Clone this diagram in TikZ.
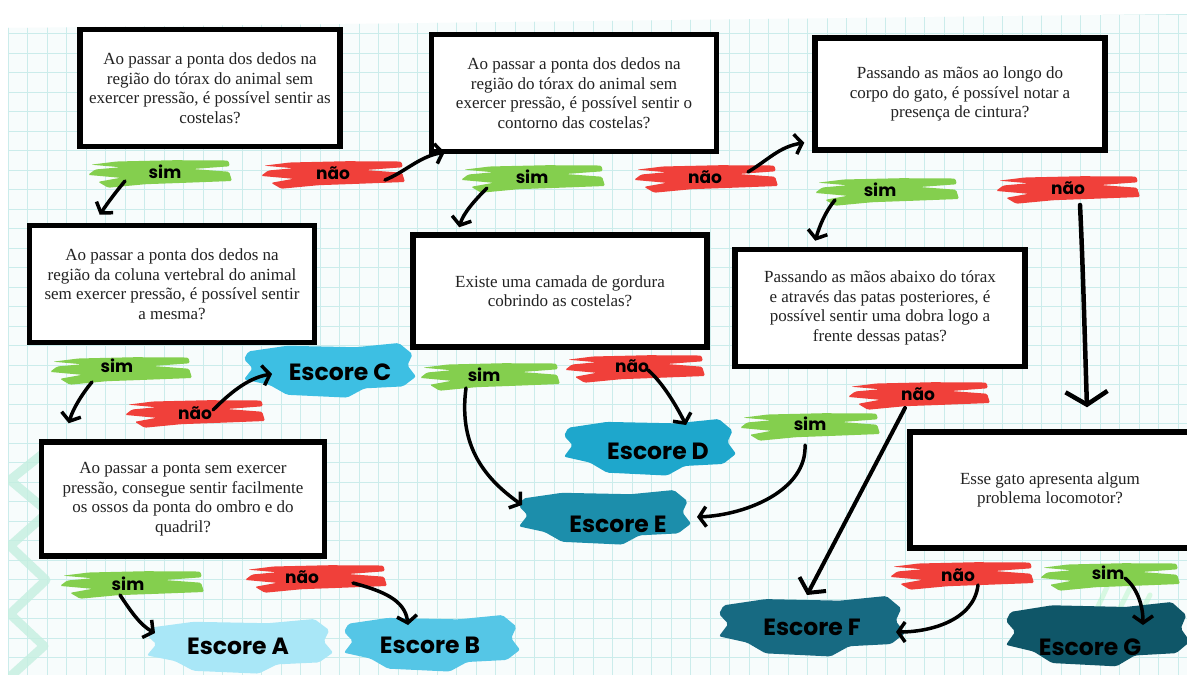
\documentclass[tikz,border=0pt]{standalone}
\usepackage{fontspec}
\setmainfont{Liberation Serif}
\newfontfamily\hand{Poppins}
\usetikzlibrary{arrows.meta,calc}
\definecolor{paper}{HTML}{F7FCFC}
\definecolor{gridc}{HTML}{CBECEB}
\definecolor{mint}{HTML}{C4EFE0}
\definecolor{bgreen}{HTML}{84CF4E}
\definecolor{bred}{HTML}{F0403A}
\definecolor{sA}{HTML}{A9E7F7}
\definecolor{sB}{HTML}{55C6E6}
\definecolor{sC}{HTML}{3DBFE3}
\definecolor{sD}{HTML}{1EA7CC}
\definecolor{sE}{HTML}{1C8EAB}
\definecolor{sF}{HTML}{176A82}
\definecolor{sG}{HTML}{0F5668}
\definecolor{qtxt}{HTML}{222222}
% label brush: x, y, half width, half height, colour
\newcommand{\lbrush}[5]{%
  \begin{scope}[shift={(#1,#2)},xscale=#3,yscale=#4]
    \fill[#5,rounded corners=1.5pt] (-0.6,-0.72) -- (0.2,-0.8) -- (0.95,-0.78) -- (0.97,-0.42)
      -- (0.45,-0.25) -- (0.96,-0.08) -- (1.0,0.5) -- (0.3,0.62) -- (-0.2,0.7) -- (-0.72,0.92)
      -- (-0.86,0.55) -- (-0.55,0.3) -- (-1.0,0.12) -- (-0.9,-0.22) -- (-0.55,-0.36)
      -- (-0.96,-0.52) -- cycle;
  \end{scope}}
% score brush
\newcommand{\sbrush}[5]{%
  \begin{scope}[shift={(#1,#2)},xscale=#3,yscale=#4]
    \fill[#5,rounded corners=2pt] (-0.95,-0.7) -- (-0.5,-0.9) -- (0.3,-0.85) -- (0.8,-1) -- (0.96,-0.6)
      -- (0.9,-0.2) -- (1.0,0.2) -- (0.85,0.55) -- (0.4,0.62) -- (0.2,0.95) -- (-0.5,0.85)
      -- (-0.7,0.5) -- (-1.0,0.3) -- (-0.9,-0.1) -- (-1.0,-0.42) -- cycle;
  \end{scope}}
\tikzset{
  qbox/.style={draw=black, line width=5.5pt, fill=white, align=center, text=qtxt,
    font=\fontsize{17}{19.5}\selectfont, inner sep=0pt},
  lab/.style={font=\hand\bfseries\fontsize{17}{17}\selectfont, inner sep=1pt, text=black},
  score/.style={font=\hand\bfseries\fontsize{23.5}{23.5}\selectfont, inner sep=1pt, text=black},
  arr/.style={line width=3.5pt, line cap=round, line join=round,
    -{Straight Barb[length=7pt,width=20pt]}},
  bigarr/.style={line width=4.5pt, line cap=round, line join=round,
    -{Straight Barb[length=13pt,width=42pt]}}
}
\begin{document}
\begin{tikzpicture}[x=1pt,y=-1pt]
\useasboundingbox (0,0) rectangle (1187,675);
\fill[white] (0,0) rectangle (1187,675);
\fill[paper] (8,28) -- (1187,14) -- (1187,675) -- (8,675) -- cycle;
\begin{scope}
  \clip (8,28) -- (1187,14) -- (1187,675) -- (8,675) -- cycle;
  \foreach \i in {0,...,61} { \draw[gridc, line width=1pt] ({8+19.5*\i},0) -- ({8+19.5*\i},675); }
  \foreach \j in {0,...,35} { \draw[gridc, line width=1pt] (0,{14+19.5*\j}) -- (1187,{14+19.5*\j}); }
  \draw[mint, line width=9pt, line cap=round, line join=round, opacity=0.8]
    (45,452) -- (10,480) -- (48,512) -- (10,546) -- (46,580) -- (10,614) -- (44,646) -- (12,675);
  \draw[mint!80!green, line width=5pt, line cap=round, opacity=0.35]
    (1080,645) -- (1108,585) (1098,652) -- (1130,588) (1120,655) -- (1150,595);
\end{scope}

% brushes
\lbrush{160}{173}{72}{16}{bgreen}
\lbrush{333}{174}{72}{16}{bred}
\lbrush{533}{178}{72}{16}{bgreen}
\lbrush{706}{178}{72}{16}{bred}
\lbrush{887}{191}{72}{16}{bgreen}
\lbrush{1068}{189}{72}{16}{bred}
\lbrush{121}{370}{71}{16}{bgreen}
\lbrush{195}{413}{70}{16}{bred}
\sbrush{330}{371}{86}{28}{sC}
\lbrush{490}{376}{70}{16}{bgreen}
\lbrush{635}{368}{70}{16}{bred}
\sbrush{650}{448}{86}{29}{sD}
\lbrush{810}{426}{70}{16}{bgreen}
\lbrush{919}{395}{71}{16}{bred}
\sbrush{605}{518}{86}{28}{sE}
\lbrush{132}{584}{72}{16}{bgreen}
\lbrush{316}{578}{71}{16}{bred}
\sbrush{240}{647}{93}{28}{sA}
\sbrush{432}{644}{88}{29}{sB}
\sbrush{812}{627}{93}{31}{sF}
\lbrush{962}{575}{72}{16}{bred}
\lbrush{1110}{576}{70}{16}{bgreen}
\sbrush{1098}{635}{92}{33}{sG}

% labels
\node[lab] (s1) at (165,172) {sim};
\node[lab] (n1) at (333,173) {não};
\node[lab] (s2) at (532,177) {sim};
\node[lab] (n2) at (705,177) {não};
\node[lab] (s3) at (880,190) {sim};
\node[lab] (n3) at (1068,188) {não};
\node[lab] (s4) at (117,366) {sim};
\node[lab] (n4) at (195,413) {não};
\node[score] (C) at (340,372) {Escore C};
\node[lab] (s5) at (484,375) {sim};
\node[lab] (n5) at (632,366) {não};
\node[score] (D) at (658,451) {Escore D};
\node[lab] (s6) at (810,424) {sim};
\node[lab] (n6) at (918,394) {não};
\node[score] (E) at (618,524) {Escore E};
\node[lab] (s7) at (128,584) {sim};
\node[lab] (n7) at (302,577) {não};
\node[score] (A) at (238,646) {Escore A};
\node[score] (B) at (430,645) {Escore B};
\node[score] (F) at (812,627) {Escore F};
\node[lab] (n8) at (958,575) {não};
\node[lab] (s8) at (1108,573) {sim};
\node[score] (G) at (1090,647) {Escore G};

% question boxes
\node[qbox, minimum width=260pt, minimum height=117pt] (q1) at (210,88)
  {Ao passar a ponta dos dedos na\\região do tórax do animal sem\\exercer pressão, é possível sentir as\\costelas?};
\node[qbox, minimum width=285pt, minimum height=117pt] (q2) at (574,93)
  {Ao passar a ponta dos dedos na\\região do tórax do animal sem\\exercer pressão, é possível sentir o\\contorno das costelas?};
\node[qbox, minimum width=290pt, minimum height=112pt] (q3) at (960,94)
  {Passando as mãos ao longo do\\corpo do gato, é possível notar a\\presença de cintura?};
\node[qbox, minimum width=285pt, minimum height=117pt] (q4) at (172,284)
  {Ao passar a ponta dos dedos na\\região da coluna vertebral do animal\\sem exercer pressão, é possível sentir\\a mesma?};
\node[qbox, minimum width=294pt, minimum height=112pt] (q5) at (560,291)
  {Existe uma camada de gordura\\cobrindo as costelas?};
\node[qbox, minimum width=290pt, minimum height=117pt] (q6) at (880,308)
  {Passando as mãos abaixo do tórax\\e através das patas posteriores, é\\possível sentir uma dobra logo a\\frente dessas patas?};
\node[qbox, minimum width=283pt, minimum height=114pt] (q7) at (183,499)
  {Ao passar a ponta sem exercer\\pressão, consegue sentir facilmente\\os ossos da ponta do ombro e do\\quadril?};
\node[qbox, minimum width=280pt, minimum height=116pt] (q8) at (1050,490)
  {Esse gato apresenta algum\\problema locomotor?};

% connectors
\draw[arr] ($(s1)+(-40,9)$) .. controls +(-10,12) and +(8,-12) .. ($(q4.north west)+(73,-8)$);
\draw[arr] ($(n1)+(52,7)$) .. controls +(20,-8) and +(-25,4) .. ($(q2.south west)+(16,-2)$);
\draw[arr] ($(s2)+(-45,11)$) .. controls +(-12,12) and +(4,-14) .. ($(q5.north west)+(49,-5)$);
\draw[arr] ($(n2)+(43,-5)$) .. controls +(20,-12) and +(-25,4) .. ($(q3.south west)+(-8,-10)$);
\draw[arr] ($(s3)+(-45,10)$) .. controls +(-10,12) and +(4,-14) .. ($(q6.north west)+(83,-6)$);
\draw[bigarr] ($(n3)+(12,17)$) .. controls +(3,60) and +(-2,-60) .. ($(q8.north)+(37,-22)$);
\draw[arr] ($(s4)+(-25,16)$) .. controls +(-10,12) and +(4,-14) .. ($(q7.north west)+(30,-16)$);
\draw[arr] ($(n4)+(18,-3)$) .. controls +(15,-15) and +(-25,4) .. ($(C)+(-68,2)$);
\draw[arr] ($(s5)+(-18,13)$) .. controls +(-8,60) and +(-35,-25) .. ($(E)+(-96,-19)$);
\draw[arr] ($(n5)+(16,4)$) .. controls +(14,12) and +(-10,-20) .. ($(D)+(28,-26)$);
\draw[arr] ($(s6)+(-5,21)$) .. controls +(2,45) and +(50,-2) .. ($(E)+(79,-7)$);
\draw[line width=4pt, line cap=round, -{Straight Barb[length=10pt,width=30pt]}] ($(n6)+(-13,14)$) -- ($(F)+(-5,-32)$);
\draw[arr] ($(n8)+(20,10)$) .. controls +(-4,35) and +(35,0) .. ($(F)+(84,5)$);
\draw[arr] ($(s8)+(17,5)$) .. controls +(12,10) and +(0,-20) .. ($(G)+(53,-22)$);
\draw[arr] ($(s7)+(-8,11)$) .. controls +(10,15) and +(-15,-8) .. ($(A)+(-83,-13)$);
\draw[arr] ($(n7)+(51,6)$) .. controls +(30,8) and +(-3,-25) .. ($(B)+(-22,-20)$);
\end{tikzpicture}
\end{document}
